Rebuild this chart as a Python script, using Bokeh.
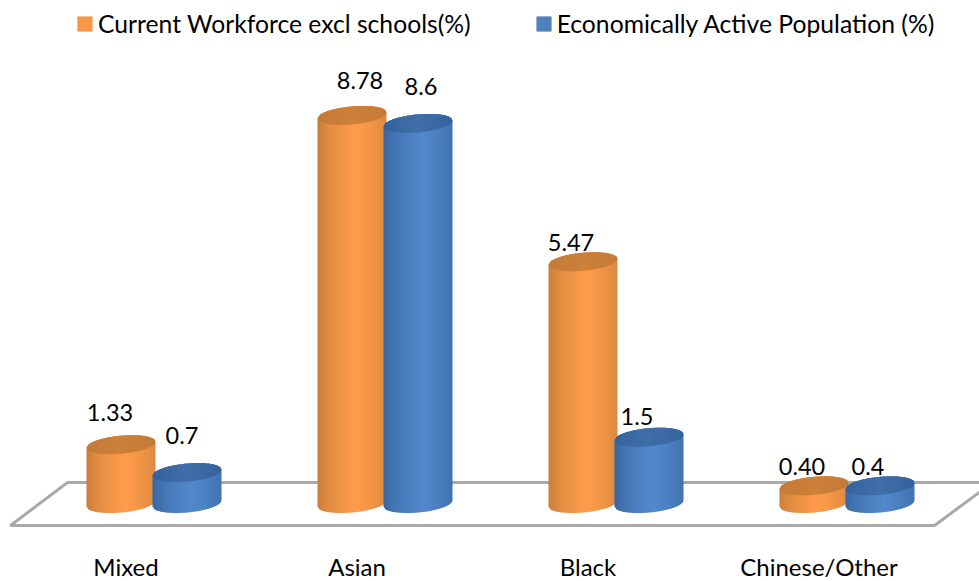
import numpy as np
from bokeh.core.properties import value
from bokeh.embed import file_html
from bokeh.models import ColumnDataSource, Legend, LegendItem, Range1d
from bokeh.plotting import figure
from bokeh.resources import INLINE

# Chart data
categories = ["Mixed", "Asian", "Black", "Chinese/Other"]
series_names = ["Current Workforce excl schools(%)", "Economically Active Population (%)"]
workforce = [1.33, 8.78, 5.47, 0.40]
population = [0.7, 8.6, 1.5, 0.4]
workforce_labels = ["1.33", "8.78", "5.47", "0.40"]
population_labels = ["0.7", "8.6", "1.5", "0.4"]

# Page geometry, in pixels
WIDTH, HEIGHT = 979, 581
GROUP_LEFT, GROUP_STEP = 153.5, 231.0
BASE_Y, PX_PER_UNIT = 503.0, 44.2
RADIUS_X, RADIUS_Y, TILT = 34.5, 9.0, 3.0
BAR_SHIFT = 33.0
FONT = value("Lato")

x_range = Range1d(-GROUP_LEFT / GROUP_STEP, (WIDTH - GROUP_LEFT) / GROUP_STEP)
y_range = Range1d((BASE_Y - HEIGHT) / PX_PER_UNIT, BASE_Y / PX_PER_UNIT)

p = figure(width=WIDTH, height=HEIGHT, x_range=x_range, y_range=y_range,
           output_backend="svg", toolbar_location=None, min_border=0,
           background_fill_color="white", border_fill_color="white",
           outline_line_color=None)
p.axis.visible = False
p.grid.visible = False


def dx(px):
    return px / GROUP_STEP


def dy(px):
    return px / PX_PER_UNIT


# Floor parallelogram under the columns
floor_x = [dx(10 - GROUP_LEFT), dx(67 - GROUP_LEFT), dx(992 - GROUP_LEFT), dx(934 - GROUP_LEFT)]
floor_y = [dy(BASE_Y - 525), dy(BASE_Y - 482), dy(BASE_Y - 482), dy(BASE_Y - 525)]
p.patch(floor_x + floor_x[:1], floor_y + floor_y[:1], fill_color="white",
        line_color="#A9A9A9", line_width=3)


def mix(a, b, t):
    a = np.array([int(a[i:i + 2], 16) for i in (1, 3, 5)], float)
    b = np.array([int(b[i:i + 2], 16) for i in (1, 3, 5)], float)
    c = a + (b - a) * t
    return "#%02x%02x%02x" % tuple(int(round(v)) for v in c)


def rim(u, sign):
    """Height in pixels of the tilted ellipse edge at horizontal offset u."""
    return TILT * u / RADIUS_X + sign * RADIUS_Y * np.sqrt(np.maximum(0, 1 - (u / RADIUS_X) ** 2))


def cylinder(cx_px, val, edge, mid, top_edge, top_mid):
    edges = np.linspace(-RADIUS_X, RADIUS_X, 47)
    top_px = val * PX_PER_UNIT
    xs, ys, colors = [], [], []
    # Side wall: narrow strips shaded dark at the rims, light just right of centre
    for u0, u1 in zip(edges[:-1], edges[1:]):
        u2 = min(u1 + 0.6, RADIUS_X)
        c = ((u0 + u1) / 2) / RADIUS_X
        t = max(0.0, 1 - abs(c - 0.12) / 1.12) ** 0.55
        xs.append(list(dx(cx_px - GROUP_LEFT + np.array([u0, u2, u2, u0]))))
        ys.append([dy(rim(u0, -1)), dy(rim(u2, -1)),
                   dy(top_px + rim(u2, 1)), dy(top_px + rim(u0, 1))])
        colors.append(mix(edge, mid, t))
    p.patches(xs, ys, fill_color=colors, line_color=None)

    # End cap: same strips clipped to the ellipse
    xs, ys, colors = [], [], []
    for u0, u1 in zip(edges[:-1], edges[1:]):
        u2 = min(u1 + 0.6, RADIUS_X)
        c = ((u0 + u1) / 2) / RADIUS_X
        t = max(0.0, 1 - abs(c)) ** 0.7
        xs.append(list(dx(cx_px - GROUP_LEFT + np.array([u0, u2, u2, u0]))))
        ys.append([dy(top_px + rim(u0, -1)), dy(top_px + rim(u2, -1)),
                   dy(top_px + rim(u2, 1)), dy(top_px + rim(u0, 1))])
        colors.append(mix(top_edge, top_mid, t))
    p.patches(xs, ys, fill_color=colors, line_color=None)


ORANGE = ("#C27A38", "#FF9C4A", "#C27A38", "#CC8038")
BLUE = ("#35609A", "#5289CC", "#33609A", "#3F6EA8")

for i, (a, b) in enumerate(zip(workforce, population)):
    center = GROUP_LEFT + i * GROUP_STEP
    cylinder(center - BAR_SHIFT, a, *ORANGE)
    cylinder(center + BAR_SHIFT, b, *BLUE)

# Value labels; each one sits by hand clear of its column
workforce_nudge = [(-11, 32), (8, 35), (-12, 19), (-12, 19)]
population_nudge = [(-5, 37), (3, 37), (-12, 21), (-12, 19)]
lab_x, lab_y, lab_t = [], [], []
for i in range(len(categories)):
    for val, text, nudge, shift in ((workforce[i], workforce_labels[i], workforce_nudge[i], -BAR_SHIFT),
                                    (population[i], population_labels[i], population_nudge[i], BAR_SHIFT)):
        lab_x.append(i + dx(shift + nudge[0]))
        lab_y.append(val + dy(nudge[1]))
        lab_t.append(text)
p.text(x="x", y="y", text="t", source=ColumnDataSource(dict(x=lab_x, y=lab_y, t=lab_t)),
       text_font=FONT, text_font_size="23.5px", text_color="#000000",
       text_align="center", text_baseline="middle")

# Category names below the floor
cat_x = [i + dx(-28) for i in range(len(categories))]
cat_y = [dy(BASE_Y - 566)] * len(categories)
p.text(x="x", y="y", text="t", source=ColumnDataSource(dict(x=cat_x, y=cat_y, t=categories)),
       text_font=FONT, text_font_size="24px", text_color="#000000",
       text_align="center", text_baseline="middle")

# Legend keys; the glyphs sit outside the visible range and only lend their colour to the legend
key_a = p.quad(left=[-50], right=[-49], top=[1], bottom=[0], fill_color="#F79646", line_color=None)
key_b = p.quad(left=[-50], right=[-49], top=[1], bottom=[0], fill_color="#4F81BD", line_color=None)
legend = Legend(items=[LegendItem(label=series_names[0], renderers=[key_a]),
                       LegendItem(label=series_names[1], renderers=[key_b])],
                orientation="horizontal", location=(75, 543), margin=0, padding=1,
                spacing=63, glyph_width=19, glyph_height=19, label_standoff=4,
                label_height=25,
                label_text_font="Lato", label_text_font_size="24.7px",
                label_text_color="#000000", background_fill_alpha=0,
                border_line_color=None)
p.add_layout(legend, "center")

open("out.html", "w").write(file_html(p, INLINE))
